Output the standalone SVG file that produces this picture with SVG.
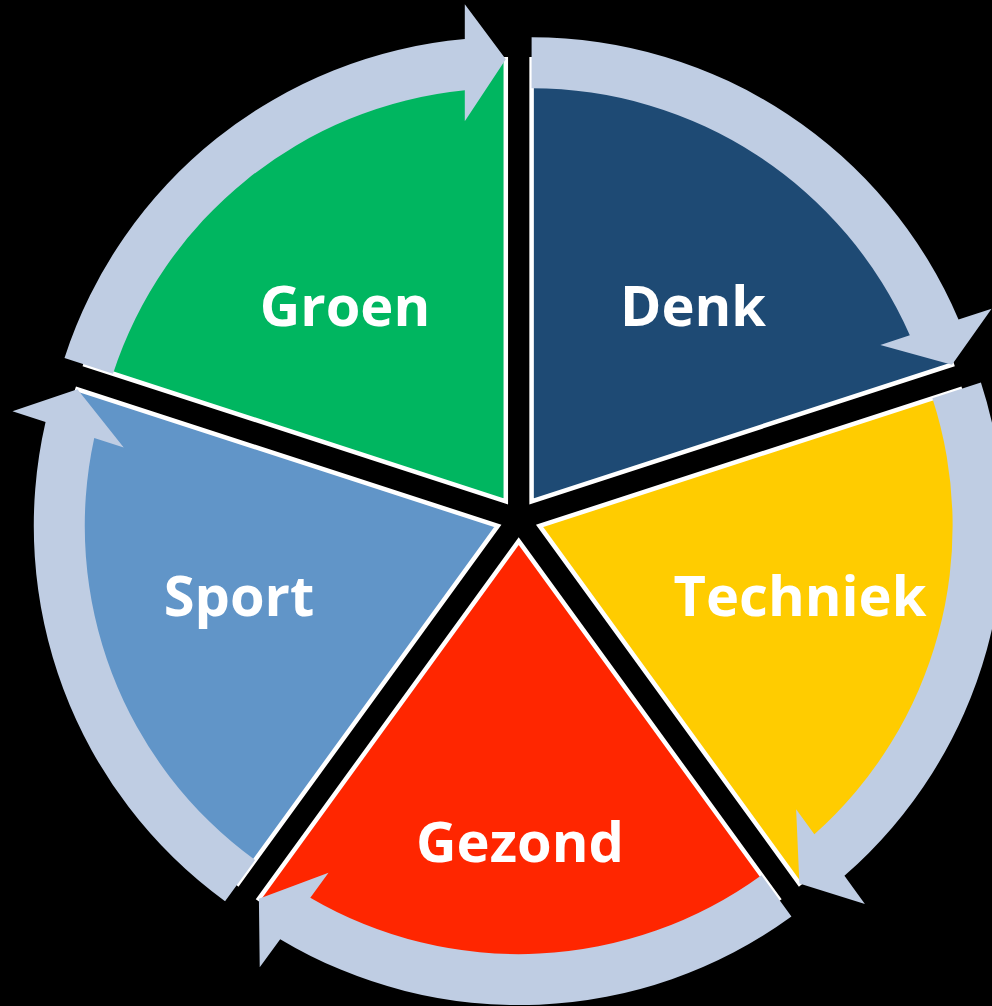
<svg xmlns="http://www.w3.org/2000/svg" xmlns:xlink="http://www.w3.org/1999/xlink" width="992" height="1006" viewBox="0 0 992 1006">
  <style>
    .wedge { stroke: #FFFFFF; stroke-width: 4.5; stroke-linejoin: miter; }
    .arrow { fill: #BFCDE3; stroke: none; }
    .label { font-family: "Open Sans", "Noto Sans", "DejaVu Sans", sans-serif; font-weight: 700; font-size: 56px; fill: #FFFFFF; text-anchor: middle; }
  </style>
  <defs>
    <path id="wedgeShape" d="M0,0 L-420.4,-136.6 A442,442 0 0 1 0,-442 Z"/>
    <path id="arrowShape" d="M-441.3,-143.4 A464,464 0 0 1 -41,-462.2 L-41,-497 L0,-442 L-41,-380 L-41,-411 A413,413 0 0 0 -392.8,-127.6 Z"/>
  </defs>
  <rect x="0" y="0" width="992" height="1006" fill="#000000"/>

  <g id="node-groen">
    <use xlink:href="#wedgeShape" href="#wedgeShape" class="wedge" fill="#00B660" transform="translate(505.8,501.3)"/>
    <text class="label" x="345" y="326">Groen</text>
  </g>
  <g id="node-denk">
    <use xlink:href="#wedgeShape" href="#wedgeShape" class="wedge" fill="#1E4A74" transform="translate(531.6,501.3) rotate(72)"/>
    <text class="label" x="693" y="326">Denk</text>
  </g>
  <g id="node-techniek">
    <use xlink:href="#wedgeShape" href="#wedgeShape" class="wedge" fill="#FFCC00" transform="translate(539.6,525.9) rotate(144)"/>
    <text class="label" x="800" y="616">Techniek</text>
  </g>
  <g id="node-gezond">
    <use xlink:href="#wedgeShape" href="#wedgeShape" class="wedge" fill="#FF2600" transform="translate(518.7,541.1) rotate(216)"/>
    <text class="label" x="520" y="862">Gezond</text>
  </g>
  <g id="node-sport">
    <use xlink:href="#wedgeShape" href="#wedgeShape" class="wedge" fill="#6195C8" transform="translate(497.8,525.9) rotate(288)"/>
    <text class="label" x="239" y="616">Sport</text>
  </g>

  <g id="connectors">
    <use xlink:href="#arrowShape" href="#arrowShape" class="arrow" transform="translate(505.8,501.3)"/>
    <use xlink:href="#arrowShape" href="#arrowShape" class="arrow" transform="translate(531.6,501.3) rotate(72)"/>
    <use xlink:href="#arrowShape" href="#arrowShape" class="arrow" transform="translate(539.6,525.9) rotate(144)"/>
    <use xlink:href="#arrowShape" href="#arrowShape" class="arrow" transform="translate(518.7,541.1) rotate(216)"/>
    <use xlink:href="#arrowShape" href="#arrowShape" class="arrow" transform="translate(497.8,525.9) rotate(288)"/>
  </g>
</svg>
